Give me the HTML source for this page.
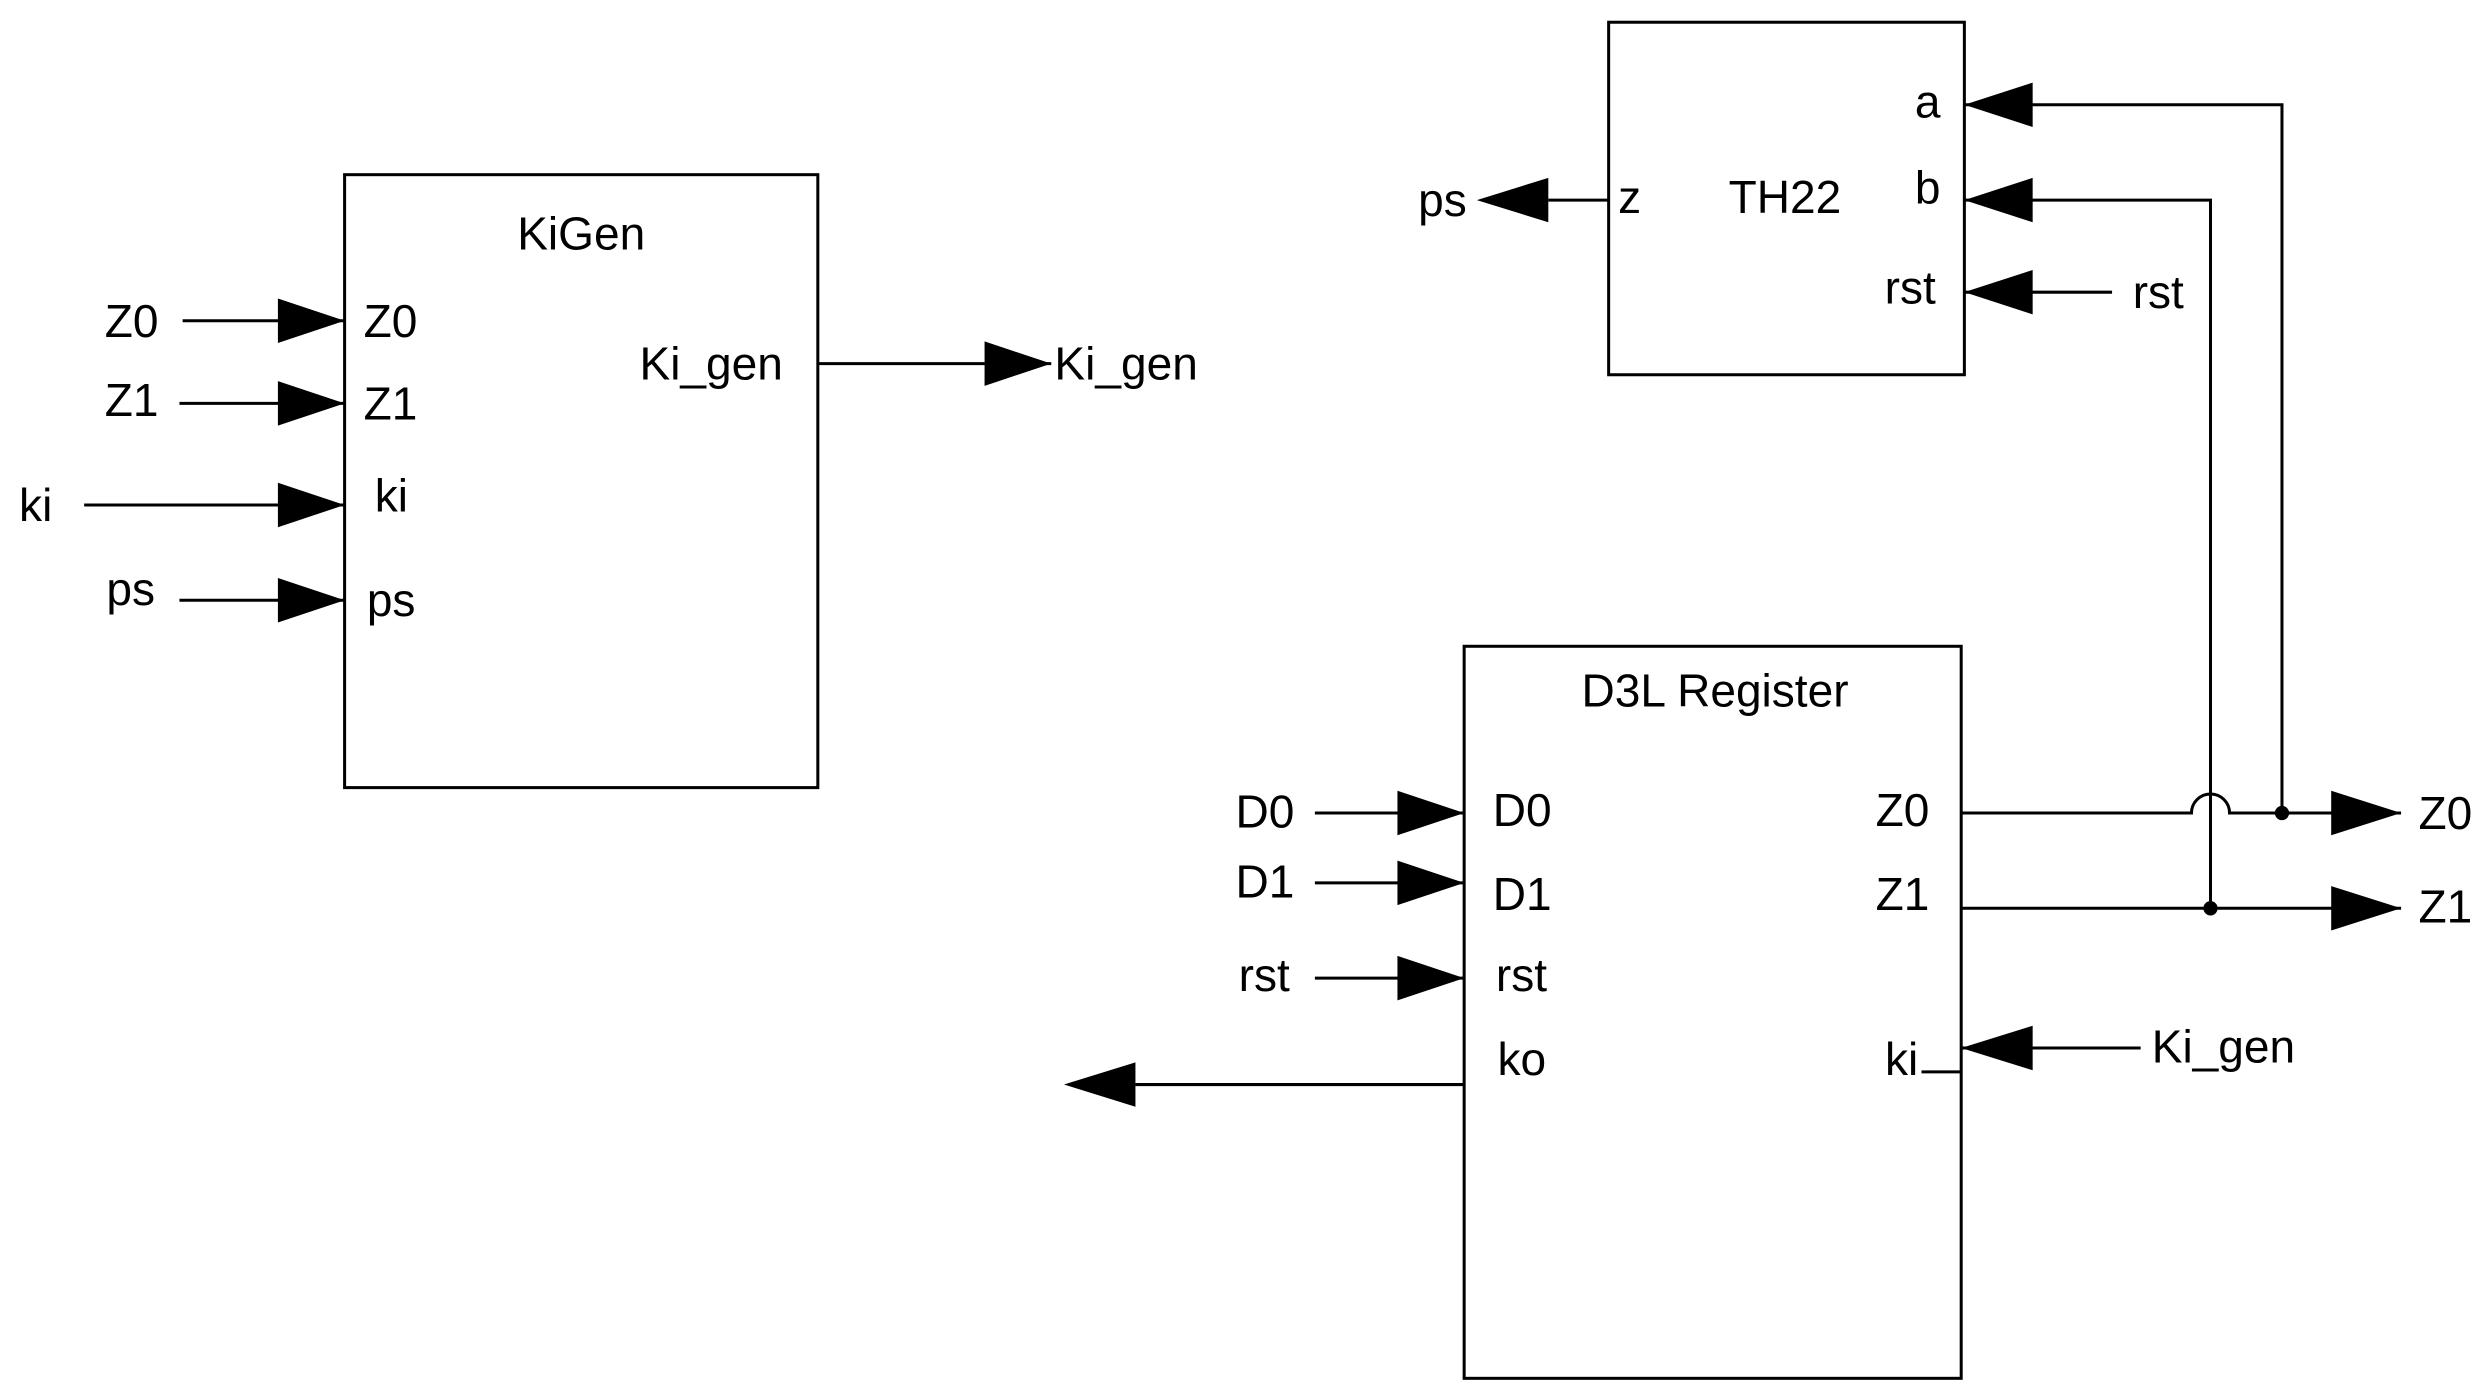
<!DOCTYPE html>
<html><head><meta charset="utf-8"><style>html,body{margin:0;padding:0;background:#fff}svg{display:block}</style></head>
<body>
<svg width="2490" height="1395" viewBox="0 0 1568 878.5" preserveAspectRatio="none" xmlns="http://www.w3.org/2000/svg">
<g fill="none" stroke="#000" stroke-width="1.9">
<rect x="217" y="110" width="298" height="386"/>
<rect x="1013" y="14" width="224" height="222"/>
<rect x="922" y="407" width="313" height="461"/>
<line x1="115" y1="202" x2="217" y2="202"/>
<line x1="113" y1="254" x2="217" y2="254"/>
<line x1="53" y1="318" x2="217" y2="318"/>
<line x1="113" y1="378" x2="217" y2="378"/>
<line x1="515" y1="229" x2="662" y2="229"/>
<line x1="975" y1="126" x2="1013" y2="126"/>
<polyline points="1237,66 1437,66 1437,512"/>
<polyline points="1237,126 1392,126 1392,572"/>
<line x1="1237" y1="184" x2="1330" y2="184"/>
<line x1="828" y1="512" x2="922" y2="512"/>
<line x1="828" y1="556" x2="922" y2="556"/>
<line x1="828" y1="616" x2="922" y2="616"/>
<line x1="715" y1="683" x2="922" y2="683"/>
<path d="M1235,512 L1380,512 A12,12 0 0 1 1404,512 L1512,512"/>
<line x1="1235" y1="572" x2="1512" y2="572"/>
<line x1="1210" y1="675" x2="1235" y2="675"/>
<line x1="1235" y1="660" x2="1348" y2="660"/>
</g>
<g fill="#000">
<polygon points="217,202 175,188 175,216"/>
<polygon points="217,254 175,240 175,268"/>
<polygon points="217,318 175,304 175,332"/>
<polygon points="217,378 175,364 175,392"/>
<polygon points="662,229 620,215 620,243"/>
<polygon points="930,126 975,112 975,140"/>
<polygon points="1237,66 1280,52 1280,80"/>
<polygon points="1237,126 1280,112 1280,140"/>
<polygon points="1237,184 1280,170 1280,198"/>
<polygon points="922,512 880,498 880,526"/>
<polygon points="922,556 880,542 880,570"/>
<polygon points="922,616 880,602 880,630"/>
<polygon points="670,683 715,669 715,697"/>
<polygon points="1512,512 1468,498 1468,526"/>
<polygon points="1512,572 1468,558 1468,586"/>
<polygon points="1235,660 1280,646 1280,674"/>
<circle cx="1437" cy="512" r="4.5"/>
<circle cx="1392" cy="572" r="4.5"/>
</g>
<g font-family="Liberation Sans, Arial, sans-serif" font-size="29" fill="#000" dominant-baseline="central">
<text x="366" y="147" text-anchor="middle">KiGen</text>
<text x="66" y="202">Z0</text>
<text x="66" y="252">Z1</text>
<text x="12" y="318">ki</text>
<text x="67" y="371">ps</text>
<text x="229" y="202">Z0</text>
<text x="229" y="254">Z1</text>
<text x="236" y="312">ki</text>
<text x="231" y="378">ps</text>
<text x="493" y="229" text-anchor="end">Ki_gen</text>
<text x="664" y="229">Ki_gen</text>
<text x="1124" y="124" text-anchor="middle">TH22</text>
<text x="1019" y="124">z</text>
<text x="893" y="126">ps</text>
<text x="1222" y="64" text-anchor="end">a</text>
<text x="1222" y="118" text-anchor="end">b</text>
<text x="1219" y="181" text-anchor="end">rst</text>
<text x="1343" y="184">rst</text>
<text x="1080" y="435" text-anchor="middle">D3L Register</text>
<text x="778" y="511">D0</text>
<text x="778" y="555">D1</text>
<text x="780" y="614">rst</text>
<text x="940" y="510">D0</text>
<text x="940" y="563">D1</text>
<text x="942" y="614">rst</text>
<text x="943" y="667">ko</text>
<text x="1215" y="510" text-anchor="end">Z0</text>
<text x="1215" y="563" text-anchor="end">Z1</text>
<text x="1187" y="667">ki</text>
<text x="1355" y="659">Ki_gen</text>
<text x="1523" y="512">Z0</text>
<text x="1523" y="571">Z1</text>
</g>
</svg>
</body></html>
